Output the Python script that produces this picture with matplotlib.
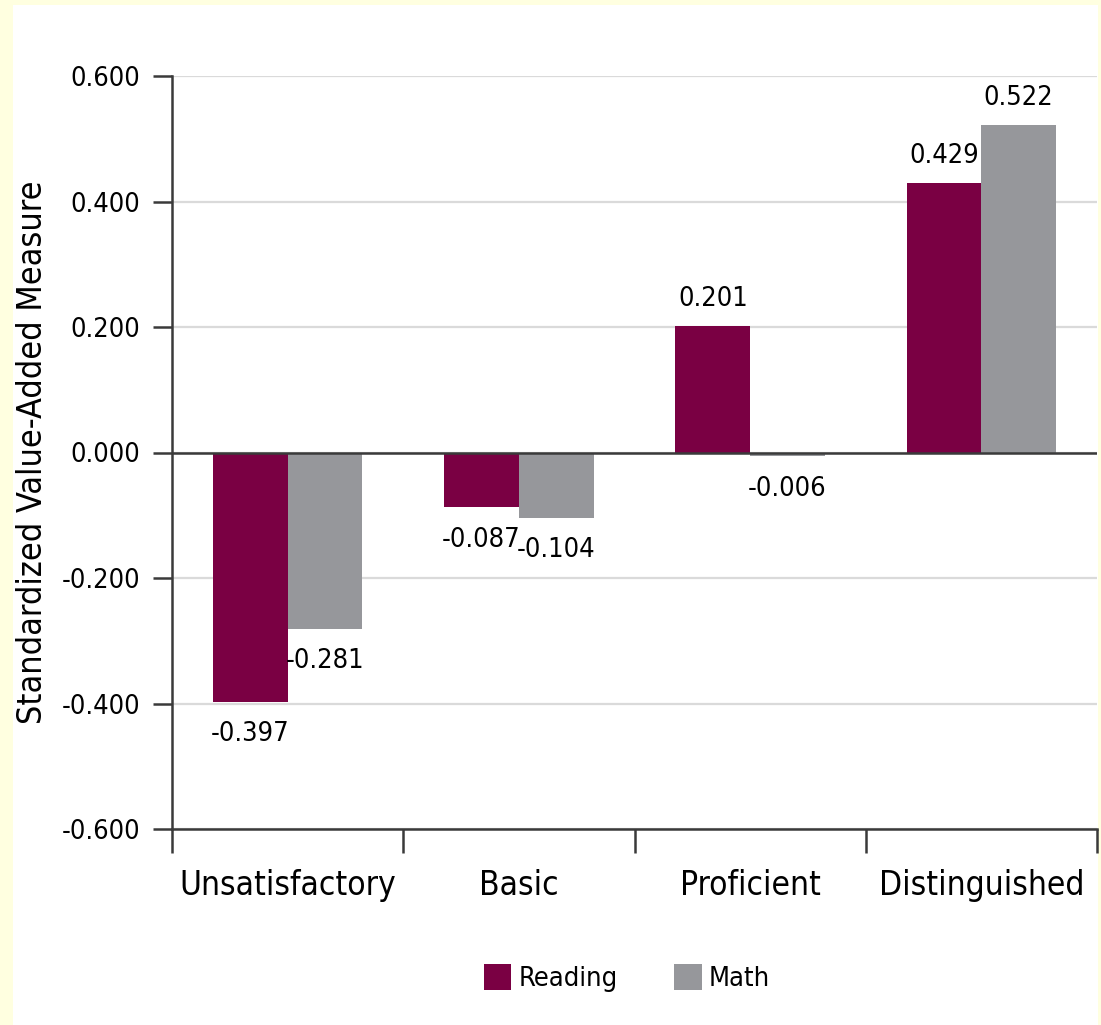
import numpy as np
import matplotlib
matplotlib.use("Agg")
import matplotlib.pyplot as plt
from matplotlib.patches import Rectangle, Patch

plt.rcParams['font.family'] = ['Liberation Sans Narrow', 'DejaVu Sans']
plt.rcParams['font.stretch'] = 'condensed'

# Data
categories = ["Unsatisfactory", "Basic", "Proficient", "Distinguished"]
reading = [-0.397, -0.087, 0.201, 0.429]
math_vals = [-0.281, -0.104, -0.006, 0.522]
series_names = ["Reading", "Math"]
yticks = [-0.6, -0.4, -0.2, 0.0, 0.2, 0.4, 0.6]

c_reading = "#7a0043"
c_math = "#96979b"
axis_col = "#3a3a3a"

fig = plt.figure(figsize=(11.01, 10.25), dpi=100, facecolor="#ffffe0")
# white panel inside the pale frame
fig.patches.append(Rectangle((13 / 1101, 0), (1098 - 13) / 1101, 1 - 5 / 1025,
                             transform=fig.transFigure, facecolor="white",
                             edgecolor="none", zorder=-5))

ax = fig.add_axes([172 / 1101, 196 / 1025, (1097 - 172) / 1101, (829 - 76) / 1025])
ax.set_facecolor("white")

x = np.arange(len(categories))
w = 0.323
b1 = ax.bar(x - w / 2, reading, w, color=c_reading, zorder=3)
b2 = ax.bar(x + w / 2, math_vals, w, color=c_math, zorder=3)

for bars, vals in ((b1, reading), (b2, math_vals)):
    for rect, v in zip(bars, vals):
        cx = rect.get_x() + rect.get_width() / 2
        if v >= 0:
            ax.annotate(f"{v:.3f}", (cx, v), xytext=(0, 10), textcoords="offset points",
                        ha="center", va="bottom", fontsize=19.5)
        else:
            ax.annotate(f"{v:.3f}", (cx, v), xytext=(0, -14), textcoords="offset points",
                        ha="center", va="top", fontsize=19.5)

ax.set_xlim(-0.5, len(categories) - 0.5)
ax.set_ylim(-0.6, 0.6)
ax.set_yticks(yticks)
ax.set_yticklabels([f"{t:.3f}" for t in yticks], fontsize=19.5)
ax.yaxis.grid(True, color="#dadada", linewidth=1.6, zorder=0)
ax.set_axisbelow(True)
ax.axhline(0, color=axis_col, linewidth=1.8, zorder=4)

# category boundaries as major ticks, names on minor ticks
ax.set_xticks(np.arange(-0.5, len(categories), 1.0))
ax.set_xticklabels([])
ax.set_xticks(x, minor=True)
ax.set_xticklabels(categories, minor=True, fontsize=24)
ax.tick_params(axis="x", which="major", length=17, width=1.8, color=axis_col, direction="out")
ax.tick_params(axis="x", which="minor", length=0, pad=29)
ax.tick_params(axis="y", length=14, width=1.8, color=axis_col, pad=9)

for s in ("top", "right"):
    ax.spines[s].set_visible(False)
for s in ("left", "bottom"):
    ax.spines[s].set_color(axis_col)
    ax.spines[s].set_linewidth(1.8)

ax.set_ylabel("Standardized Value-Added Measure", fontsize=24.5, labelpad=9)

handles = [Patch(facecolor=c_reading), Patch(facecolor=c_math)]
fig.legend(handles, series_names, loc="center", bbox_to_anchor=(627 / 1101, 1 - 978 / 1025),
           ncol=2, frameon=False, fontsize=19.5, handlelength=1.0, handleheight=1.1,
           handletextpad=0.28, columnspacing=2.1)

fig.savefig("out.png", dpi=100, facecolor=fig.get_facecolor())
